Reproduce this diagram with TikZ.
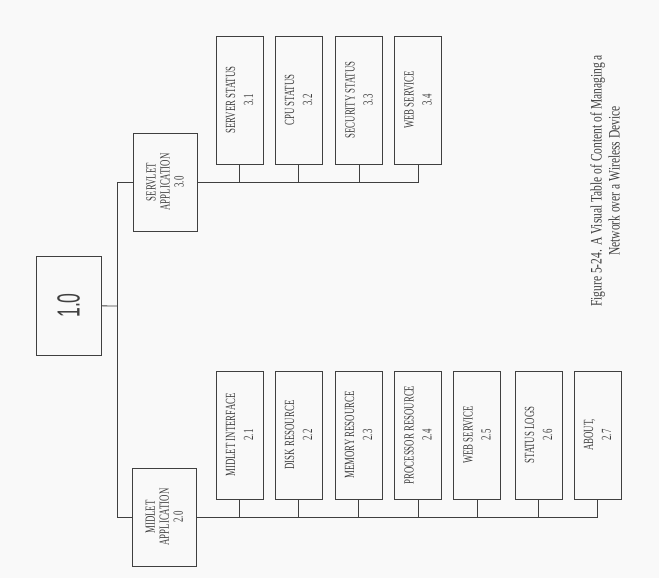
\documentclass[tikz,border=0pt]{standalone}
\usepackage{fontspec}
\usepackage{xcolor}
\usepackage{tikz}
\newfontfamily\boxfont[FakeStretch=0.63]{Liberation Serif}
\newfontfamily\rootfont[FakeStretch=0.55]{Liberation Sans}
\newfontfamily\capfont[FakeStretch=0.72]{Liberation Serif}
\definecolor{ink}{gray}{0.25}
\definecolor{paper}{gray}{0.975}

\begin{document}
\begin{tikzpicture}[x=1pt,y=-1pt,color=ink,
    rootbox/.style={draw,rotate=90,inner sep=0pt,minimum width=99pt,minimum height=65pt,line width=0.9pt,font=\rootfont\fontsize{32}{32}\selectfont},
    appbox/.style={draw,rotate=90,inner sep=0pt,minimum width=98pt,minimum height=64pt,line width=0.9pt,align=center,font=\boxfont\fontsize{14}{14}\selectfont},
    leafbox/.style={draw,rotate=90,inner sep=0pt,minimum width=128pt,minimum height=47pt,line width=0.9pt,align=center,font=\boxfont\fontsize{14}{18}\selectfont},
    link/.style={line width=0.8pt}]
    % Page
    \fill[paper] (0,0) rectangle (659,578);
    \useasboundingbox (0,0) rectangle (659,578);

    % Root
    \node[rootbox] (root) at (68.5,305.5) {1.0};
    \coordinate (trunk) at (117,306);

    % Servlet branch
    \node[appbox] (servlet) at (165,182) {SERVLET\\APPLICATION\\3.0};
    \node[leafbox] (s31) at (239.5,100) {SERVER STATUS\\3.1};
    \node[leafbox] (s32) at (298.5,100) {CPU STATUS\\3.2};
    \node[leafbox] (s33) at (359,100) {SECURITY STATUS\\3.3};
    \node[leafbox] (s34) at (418,100) {WEB SERVICE\\3.4};

    % Midlet branch
    \node[appbox] (midlet) at (164.5,517) {MIDLET\\APPLICATION\\2.0};
    \node[leafbox] (m21) at (239.5,435) {MIDLET INTERFACE\\2.1};
    \node[leafbox] (m22) at (298.5,435) {DISK RESOURCE\\2.2};
    \node[leafbox] (m23) at (358.5,435) {MEMORY RESOURCE\\2.3};
    \node[leafbox] (m24) at (418,435) {PROCESSOR RESOURCE\\2.4};
    \node[leafbox] (m25) at (477,435) {WEB SERVICE\\2.5};
    \node[leafbox] (m26) at (538.5,435) {STATUS LOGS\\2.6};
    \node[leafbox] (m27) at (597.5,435) {ABOUT,\\2.7};

    % Trunk
    \draw[link] (root) -- (trunk);
    \draw[link] (trunk) |- (servlet);
    \draw[link] (trunk) |- (midlet);

    % Servlet bus
    \draw[link] (servlet) -| (s31);
    \draw[link] (servlet) -| (s32);
    \draw[link] (servlet) -| (s33);
    \draw[link] (servlet) -| (s34);

    % Midlet bus
    \draw[link] (midlet) -| (m21);
    \draw[link] (midlet) -| (m22);
    \draw[link] (midlet) -| (m23);
    \draw[link] (midlet) -| (m24);
    \draw[link] (midlet) -| (m25);
    \draw[link] (midlet) -| (m26);
    \draw[link] (midlet) -| (m27);

    % Caption
    \node[rotate=90,align=center,font=\capfont\fontsize{16}{18}\selectfont] (caption) at (605,181)
        {Figure 5-24. A Visual Table of Content of Managing a\\Network over a Wireless Device};
\end{tikzpicture}
\end{document}
